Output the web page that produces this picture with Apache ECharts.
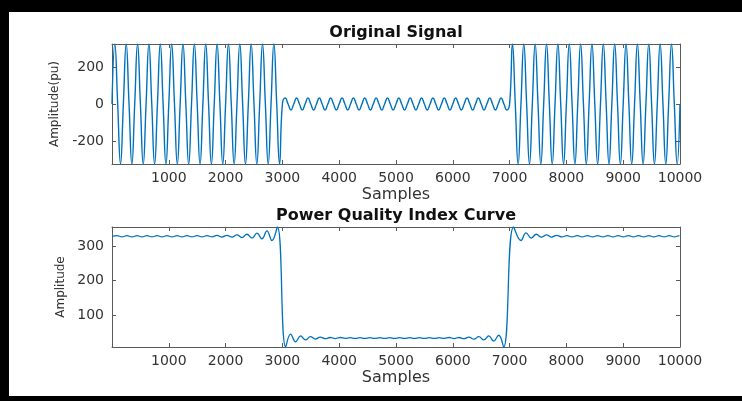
<!DOCTYPE html>
<html>
<head>
<meta charset="utf-8">
<script src="https://cdn.jsdelivr.net/npm/echarts@6/dist/echarts.min.js"></script>
<style>
  html, body { margin: 0; padding: 0; background: #ffffff; }
  #chart { width: 742px; height: 401px; }
</style>
</head>
<body>
<div id="chart"></div>
<script>
// ---- Original signal: one value every SIG_STEP samples (zero crossings and peaks) ----
const SIG_STEP = 50;
const sigNormalA = [
  0, 325, 0, -325, 0, 325, 0, -325, 0, 325, 0, -325, 0, 325, 0, -325, 0, 325, 0, -325,
  0, 325, 0, -325, 0, 325, 0, -325, 0, 325, 0, -325, 0, 325, 0, -325, 0, 325, 0, -325,
  0, 325, 0, -325, 0, 325, 0, -325, 0, 325, 0, -325, 0, 325, 0, -325, 0, 325, 0, -325
];
const sigSag = [
  0, 32.5, 0, -32.5, 0, 32.5, 0, -32.5, 0, 32.5, 0, -32.5, 0, 32.5, 0, -32.5, 0, 32.5, 0, -32.5,
  0, 32.5, 0, -32.5, 0, 32.5, 0, -32.5, 0, 32.5, 0, -32.5, 0, 32.5, 0, -32.5, 0, 32.5, 0, -32.5,
  0, 32.5, 0, -32.5, 0, 32.5, 0, -32.5, 0, 32.5, 0, -32.5, 0, 32.5, 0, -32.5, 0, 32.5, 0, -32.5,
  0, 32.5, 0, -32.5, 0, 32.5, 0, -32.5, 0, 32.5, 0, -32.5, 0, 32.5, 0, -32.5, 0, 32.5, 0, -32.5
];
const sigNormalB = [
  0, 325, 0, -325, 0, 325, 0, -325, 0, 325, 0, -325, 0, 325, 0, -325, 0, 325, 0, -325,
  0, 325, 0, -325, 0, 325, 0, -325, 0, 325, 0, -325, 0, 325, 0, -325, 0, 325, 0, -325,
  0, 325, 0, -325, 0, 325, 0, -325, 0, 325, 0, -325, 0, 325, 0, -325, 0, 325, 0, -325,
  0
];

// ---- Power quality index curve: samples and values at its turning points ----
const pqiPreX = [0, 88, 176, 264, 352, 440, 528, 616, 704, 792, 880, 968, 1056, 1144, 1232, 1320,
  1408, 1496, 1584, 1672, 1760, 1848, 1936, 2024, 2112, 2200, 2288, 2376, 2464, 2552, 2640, 2728, 2816, 2912];
const pqiPreY = [328, 330, 326.5, 330, 326.5, 330, 326.5, 330, 326.5, 330, 326.5, 330, 326.5, 330, 326.5, 330,
  326.5, 330, 326.5, 330, 326.5, 330.5, 326, 331, 325.5, 332, 324.5, 334, 323, 337, 321, 344, 316, 355];

const pqiSagX = [3058, 3145, 3232, 3320, 3407, 3494, 3581, 3668, 3756, 3843, 3930, 4017, 4104, 4192, 4279,
  4366, 4453, 4540, 4628, 4715, 4802, 4889, 4976, 5064, 5151, 5238, 5325, 5412, 5500, 5587, 5674, 5761,
  5848, 5936, 6023, 6110, 6197, 6284, 6372, 6459, 6546, 6633, 6720, 6808, 6895];
const pqiSagY = [8, 45, 23, 40, 28.5, 38, 31, 36.5, 32, 35.5, 32.5, 35.5, 33, 35, 33,
  35, 33, 35, 33, 35, 33, 35, 33, 35, 33, 35, 33, 35, 33, 35, 33, 35,
  33, 35.5, 32.5, 35.5, 32, 36.5, 30.5, 38, 28.5, 40, 25, 42, 8];

const pqiPostX = [7070, 7200, 7290, 7380, 7470, 7560, 7650, 7740, 7830, 7920, 8010, 8100, 8190, 8280, 8370,
  8460, 8550, 8640, 8730, 8820, 8910, 9000, 9090, 9180, 9270, 9360, 9450, 9540, 9630, 9720, 9810, 9900, 9990, 10000];
const pqiPostY = [355, 316, 338, 323, 334, 325.5, 332, 326, 331, 326.5, 330, 326.5, 330, 326.5, 330,
  326.5, 330, 326.5, 330, 326.5, 330, 326.5, 330, 326.5, 330, 326.5, 330, 326.5, 330, 326.5, 330, 326.5, 330, 329];

// ---- Tick labels ----
const sampleTicks = [1000, 2000, 3000, 4000, 5000, 6000, 7000, 8000, 9000, 10000];
const signalTicks = [-200, 0, 200];
const pqiTicks = [100, 200, 300];

const SAMPLE_RANGE = [0, 10000];
const SIGNAL_RANGE = [-325, 325];
const PQI_RANGE = [8, 355];

// ---- Build series data ----
const signalData = sigNormalA.concat(sigSag, sigNormalB).map((v, i) => [i * SIG_STEP, v]);
const pqiX = pqiPreX.concat(pqiSagX, pqiPostX);
const pqiY = pqiPreY.concat(pqiSagY, pqiPostY);
const pqiData = pqiX.map((x, i) => [x, pqiY[i]]);

const FONT = 'DejaVu Sans';
const AXIS_COLOR = '#5a5a5a';
const TEXT_COLOR = '#333333';
const LINE_COLOR = '#0072BD';
const plainNumber = v => String(v);

function xAxisDef(gridIndex, position, withLabels) {
  return {
    type: 'value', gridIndex, position,
    min: SAMPLE_RANGE[0], max: SAMPLE_RANGE[1],
    axisLine: { show: true, onZero: false, lineStyle: { color: AXIS_COLOR, width: 1 } },
    axisTick: { show: true, inside: true, length: 4, customValues: sampleTicks, lineStyle: { color: AXIS_COLOR } },
    axisLabel: { show: withLabels, customValues: sampleTicks, formatter: plainNumber, margin: 7,
      color: TEXT_COLOR, fontFamily: FONT, fontSize: 14 },
    splitLine: { show: false },
    name: withLabels ? 'Samples' : '',
    nameLocation: 'middle', nameGap: 23,
    nameTextStyle: { color: TEXT_COLOR, fontFamily: FONT, fontSize: 16 }
  };
}

function yAxisDef(gridIndex, position, range, ticks, withLabels, name, gap) {
  return {
    type: 'value', gridIndex, position,
    min: range[0], max: range[1],
    axisLine: { show: true, onZero: false, lineStyle: { color: AXIS_COLOR, width: 1 } },
    axisTick: { show: true, inside: true, length: 4, customValues: ticks, lineStyle: { color: AXIS_COLOR } },
    axisLabel: { show: withLabels, customValues: ticks, formatter: plainNumber, margin: 8,
      color: TEXT_COLOR, fontFamily: FONT, fontSize: 14 },
    splitLine: { show: false },
    name: withLabels ? name : '',
    nameLocation: 'middle', nameGap: gap, nameRotate: 90,
    nameTextStyle: { color: TEXT_COLOR, fontFamily: FONT, fontSize: 12 }
  };
}

const chart = echarts.init(document.getElementById('chart'), null, { renderer: 'canvas' });

chart.setOption({
  animation: false,
  backgroundColor: '#ffffff',
  title: [
    { text: 'Original Signal', left: 396, top: 25, textAlign: 'center', padding: 0,
      textStyle: { fontFamily: FONT, fontWeight: 'bold', fontSize: 16, color: '#111111' } },
    { text: 'Power Quality Index Curve', left: 396, top: 208, textAlign: 'center', padding: 0,
      textStyle: { fontFamily: FONT, fontWeight: 'bold', fontSize: 16, color: '#111111' } }
  ],
  grid: [
    { left: 112, top: 44, width: 568, height: 120, containLabel: false },
    { left: 112, top: 227, width: 568, height: 120, containLabel: false }
  ],
  xAxis: [
    xAxisDef(0, 'bottom', true),
    xAxisDef(0, 'top', false),
    xAxisDef(1, 'bottom', true),
    xAxisDef(1, 'top', false)
  ],
  yAxis: [
    yAxisDef(0, 'left', SIGNAL_RANGE, signalTicks, true, 'Amplitude(pu)', 48),
    yAxisDef(0, 'right', SIGNAL_RANGE, signalTicks, false, '', 0),
    yAxisDef(1, 'left', PQI_RANGE, pqiTicks, true, 'Amplitude', 44),
    yAxisDef(1, 'right', PQI_RANGE, pqiTicks, false, '', 0)
  ],
  series: [
    { name: 'Original Signal', type: 'line', xAxisIndex: 0, yAxisIndex: 0,
      data: signalData, showSymbol: false, smooth: 0.5,
      lineStyle: { color: LINE_COLOR, width: 1.4 } },
    { name: 'Power Quality Index', type: 'line', xAxisIndex: 2, yAxisIndex: 2,
      data: pqiData, showSymbol: false, smooth: 0.45,
      lineStyle: { color: LINE_COLOR, width: 1.3 } }
  ],
  graphic: [
    // black frame strips along the top, left and bottom edges
    { type: 'rect', left: 0, top: 0, shape: { width: 742, height: 12 }, style: { fill: '#000000' }, silent: true },
    { type: 'rect', left: 0, top: 0, shape: { width: 9, height: 401 }, style: { fill: '#000000' }, silent: true },
    { type: 'rect', left: 0, top: 396, shape: { width: 742, height: 5 }, style: { fill: '#000000' }, silent: true }
  ]
});
</script>
</body>
</html>
